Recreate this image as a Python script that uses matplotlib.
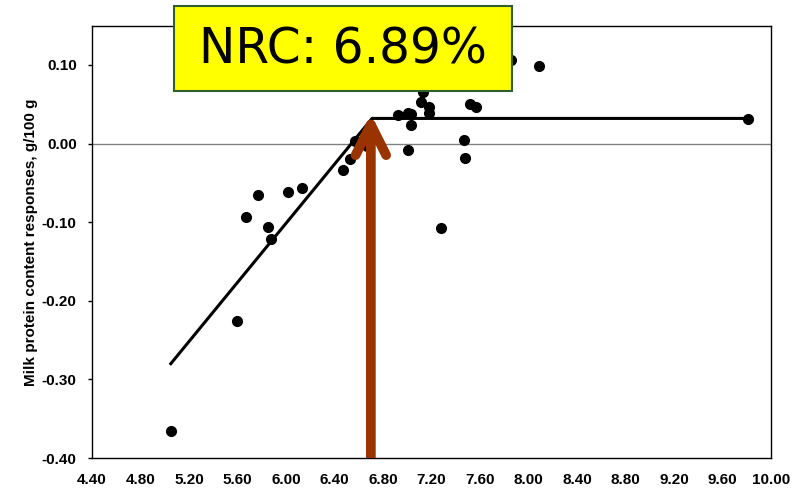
import matplotlib.pyplot as plt
from matplotlib.patches import Rectangle

# diet value (x) vs milk protein content response (y)
x_vals = [5.05, 5.60, 5.67, 5.77, 5.85, 5.88, 6.02, 6.13, 6.47, 6.53, 6.57, 6.67,
          6.92, 7.01, 7.03, 7.03, 7.01, 7.11, 7.13, 7.18, 7.18, 7.52, 7.57, 7.47,
          7.48, 7.28, 7.86, 8.09, 9.81]
y_vals = [-0.366, -0.226, -0.093, -0.065, -0.106, -0.122, -0.061, -0.057, -0.033,
          -0.019, 0.003, -0.003, 0.036, 0.039, 0.038, 0.024, -0.008, 0.053, 0.066,
          0.046, 0.039, 0.051, 0.047, 0.005, -0.018, -0.108, 0.106, 0.099, 0.031]

# broken-line fit
fit_x = [5.05, 6.71, 9.81]
fit_y = [-0.280, 0.032, 0.032]

breakpoint_x = 6.70
label_text = 'NRC: 6.89%'
x_ticks = [4.40, 4.80, 5.20, 5.60, 6.00, 6.40, 6.80, 7.20, 7.60, 8.00, 8.40, 8.80, 9.20, 9.60, 10.00]
y_ticks = [-0.40, -0.30, -0.20, -0.10, 0.00, 0.10]

plt.rcParams['font.family'] = ['Liberation Sans', 'DejaVu Sans']

fig = plt.figure(figsize=(8.02, 4.92), dpi=100)
ax = fig.add_axes([0.1147, 0.0691, 0.8466, 0.8787])

ax.axhline(0, color='#808080', lw=1, zorder=1)
ax.plot(fit_x, fit_y, color='black', lw=2.2, zorder=2)
ax.plot(x_vals, y_vals, 'o', color='black', ms=7, zorder=3)

# brown arrow at the breakpoint
ann = ax.annotate('', xy=(breakpoint_x, 0.038), xytext=(breakpoint_x, -0.43),
                  arrowprops=dict(arrowstyle='->,head_length=2.2,head_width=1.1',
                                  lw=7, color='#993300', mutation_scale=10,
                                  shrinkA=0, shrinkB=0, capstyle='round'),
                  zorder=4)
ann.arrow_patch.set_clip_path(ax.patch)

ax.set_xlim(4.40, 10.00)
ax.set_ylim(-0.40, 0.15)
ax.set_xticks(x_ticks)
ax.set_xticklabels([f'{v:.2f}' for v in x_ticks], fontsize=11, fontweight='bold')
ax.set_yticks(y_ticks)
ax.set_yticklabels([f'{v:.2f}' for v in y_ticks], fontsize=11, fontweight='bold')
ax.tick_params(axis='x', length=0, pad=11)
ax.tick_params(axis='y', length=3, width=1, direction='out', pad=8)
ax.set_ylabel('Milk protein content responses, g/100 g', fontsize=11,
              fontweight='bold', labelpad=3)
for sp in ax.spines.values():
    sp.set_linewidth(1)
    sp.set_color('black')

# yellow label box
fig.patches.append(Rectangle((0.217, 0.815), 0.4214, 0.1728, transform=fig.transFigure,
                             facecolor='#ffff00', edgecolor='#2f5f2f', lw=1.5, zorder=5))
fig.text(0.4277, 0.899, label_text, ha='center', va='center', fontsize=35,
         family='DejaVu Sans', color='black', zorder=6)

fig.savefig('out.png', dpi=100)
